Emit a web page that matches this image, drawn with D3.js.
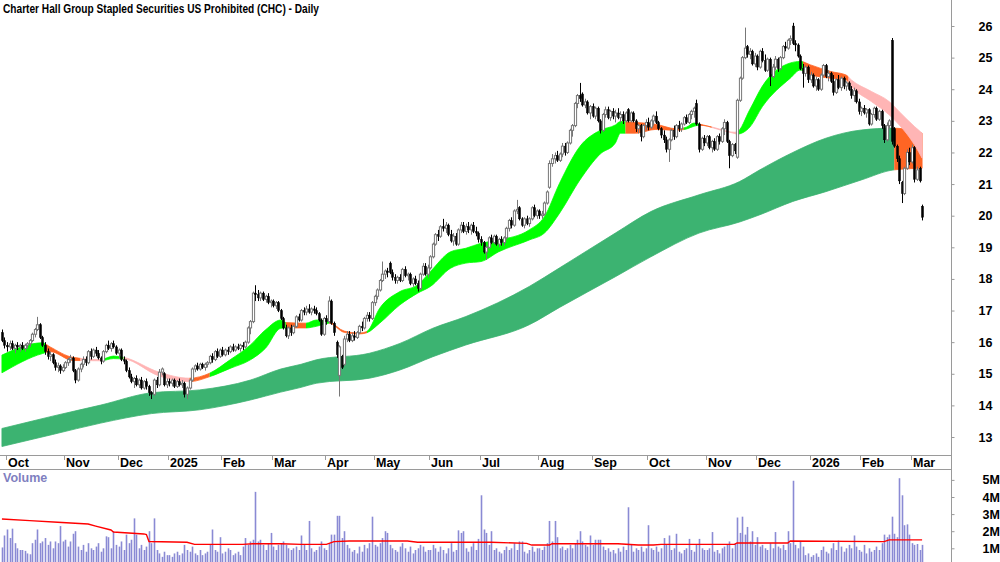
<!DOCTYPE html>
<html>
<head>
<meta charset="utf-8">
<script src="https://cdn.jsdelivr.net/npm/d3@7"></script>
<style>
html, body { margin: 0; padding: 0; background: #fff; }
svg { display: block; }
text { font-family: "Liberation Sans Narrow", "Arial Narrow", "Liberation Sans", Arial, sans-serif; font-weight: bold; }
</style>
</head>
<body>
<script>
// Daily bars, one small array per month: [open, high, low, close, volume (millions)]
const sep24 = [[16.30,16.40,16.00,16.05,1.05],[16.05,16.15,15.80,15.90,1.75]];
const oct24 = [[15.90,16.00,15.70,15.85,2.10],[15.85,16.05,15.75,15.95,1.60],[15.95,16.05,15.75,15.80,2.15],[15.80,15.95,15.65,15.90,1.30],
[15.90,16.00,15.75,15.85,1.00],[15.85,15.95,15.70,15.90,0.90],[15.90,16.00,15.75,15.80,0.90],[15.80,15.95,15.70,15.90,0.85],
[15.90,16.00,15.80,15.95,0.70],[15.95,16.10,15.85,16.05,0.65],[16.05,16.30,16.00,16.25,1.30],[16.25,16.45,16.15,16.40,1.50],
[16.40,16.80,16.35,16.55,2.10],[16.55,16.60,16.10,16.15,1.30],[16.15,16.20,15.85,15.90,1.40],[15.90,16.00,15.60,15.70,1.60],
[15.70,15.80,15.45,15.55,1.20],[15.55,15.70,15.40,15.60,1.40],[15.60,15.65,15.30,15.35,1.00],[15.35,15.45,15.10,15.20,1.40],
[15.20,15.35,15.05,15.25,1.30],[15.25,15.30,15.00,15.10,2.30],[15.10,15.30,15.05,15.20,1.40]];
const nov24 = [[15.20,15.40,15.15,15.35,1.50],[15.35,15.50,15.25,15.45,1.10],[15.45,15.60,15.35,15.50,1.40],[15.50,15.55,15.05,15.10,1.85],
[15.10,15.15,14.70,14.80,2.00],[14.80,15.20,14.75,15.15,1.10],[15.15,15.35,15.05,15.30,0.90],[15.30,15.55,15.20,15.45,1.20],
[15.45,15.55,15.25,15.35,0.80],[15.35,15.75,15.30,15.70,1.30],[15.70,15.80,15.45,15.55,1.00],[15.55,15.80,15.50,15.75,0.90],
[15.75,15.85,15.55,15.65,1.10],[15.65,15.75,15.45,15.50,1.30],[15.50,15.55,15.30,15.40,0.80],[15.40,15.75,15.35,15.70,1.00],
[15.70,15.95,15.65,15.90,1.70],[15.90,16.05,15.75,15.80,1.65],[15.80,16.00,15.70,15.95,1.00],[15.95,16.05,15.80,15.85,2.00],
[15.85,15.90,15.60,15.65,1.20]];
const dec24 = [[15.65,15.80,15.50,15.75,1.10],[15.75,15.80,15.40,15.45,1.40],[15.45,15.55,15.30,15.40,0.90],[15.40,15.45,15.05,15.10,1.80],
[15.10,15.20,14.85,14.90,1.30],[14.90,15.00,14.70,14.75,1.50],[14.75,14.90,14.55,14.85,2.75],[14.85,14.95,14.60,14.65,1.80],
[14.65,14.85,14.55,14.80,1.00],[14.80,14.90,14.50,14.55,1.20],[14.55,14.80,14.50,14.75,0.90],[14.75,14.85,14.50,14.60,1.10],
[14.60,14.65,14.30,14.40,2.00],[14.40,14.45,14.20,14.35,1.30],[14.35,14.85,14.30,14.80,2.75],[14.80,14.90,14.55,14.65,0.90],
[14.65,15.15,14.60,15.05,0.70],[15.05,15.20,14.95,15.15,0.50],[15.00,15.05,14.60,14.65,0.80],[14.65,14.85,14.55,14.75,0.60]];
const jan25 = [[14.75,14.85,14.60,14.70,0.60],[14.70,14.85,14.60,14.80,0.50],[14.80,14.85,14.55,14.60,0.70],[14.60,14.80,14.55,14.75,0.80],
[14.75,14.85,14.60,14.65,0.60],[14.65,14.80,14.55,14.70,0.70],[14.70,14.75,14.25,14.35,1.20],[14.35,14.60,14.20,14.55,0.90],
[14.55,14.85,14.50,14.80,0.80],[14.80,15.20,14.75,15.15,1.10],[15.15,15.30,15.05,15.25,0.70],[15.25,15.35,15.10,15.15,0.60],
[15.15,15.35,15.10,15.30,0.90],[15.30,15.35,15.15,15.20,0.60],[15.20,15.35,15.10,15.30,0.70],[15.30,15.40,15.20,15.35,0.80],
[15.35,15.60,15.30,15.55,1.20],[15.55,15.65,15.35,15.45,2.10],[15.45,15.75,15.40,15.70,0.90],[15.70,15.80,15.50,15.55,0.80],
[15.55,15.80,15.50,15.75,1.65]];
const feb25 = [[15.75,15.85,15.55,15.60,0.70],[15.60,15.80,15.55,15.75,0.80],[15.75,15.85,15.60,15.70,1.00],[15.70,15.90,15.65,15.85,0.90],
[15.85,15.95,15.70,15.75,0.60],[15.75,15.90,15.70,15.85,0.70],[15.85,15.95,15.75,15.80,0.80],[15.80,15.95,15.70,15.90,0.60],
[15.90,16.00,15.75,15.85,1.10],[15.85,16.05,15.80,16.00,1.60],[16.00,16.50,15.95,16.45,1.20],[16.45,16.70,16.25,16.65,1.40],
[16.65,17.60,16.60,17.55,1.50],[17.55,17.80,17.30,17.50,4.30],[17.50,17.65,17.30,17.40,1.40],[17.40,17.60,17.30,17.55,1.50],
[17.55,17.60,17.30,17.35,1.20],[17.35,17.50,17.25,17.45,0.90],[17.45,17.55,17.20,17.25,1.30],[17.25,17.35,17.10,17.30,1.90]];
const mar25 = [[17.30,17.35,17.10,17.15,1.10],[17.15,17.30,17.05,17.25,0.90],[17.25,17.30,16.95,17.00,1.20],[17.00,17.05,16.70,16.75,1.30],
[16.75,16.80,16.40,16.45,1.40],[16.45,16.55,16.15,16.20,1.20],[16.20,16.50,16.10,16.45,1.00],[16.45,16.55,16.20,16.30,0.90],
[16.30,16.55,16.25,16.50,1.00],[16.50,16.85,16.45,16.80,1.10],[16.80,16.90,16.65,16.70,0.90],[16.70,17.05,16.65,17.00,1.75],
[17.00,17.10,16.85,16.95,1.20],[16.95,17.15,16.85,17.05,0.90],[17.05,17.20,16.90,16.95,2.60],[16.95,17.10,16.85,17.05,1.00],
[17.05,17.15,16.90,17.00,0.80],[17.00,17.10,16.85,16.90,0.90],[16.90,16.95,16.65,16.70,1.10],[16.70,16.75,16.20,16.25,1.40],
[16.25,16.80,16.20,16.75,1.00]];
const apr25 = [[16.75,16.85,16.55,16.65,0.90],[16.65,17.45,16.60,17.30,1.30],[17.30,17.35,16.55,16.60,1.80],[16.60,16.65,16.20,16.30,1.80],
[16.00,16.05,15.50,15.60,2.90],[14.95,15.90,14.28,15.85,2.90],[15.55,15.60,15.15,15.20,1.60],[15.30,16.20,15.25,16.10,2.00],
[16.10,16.35,16.00,16.25,1.20],[16.25,16.35,16.00,16.05,1.00],[16.05,16.30,16.00,16.20,0.80],[16.20,16.35,16.05,16.15,0.90],
[16.15,16.35,16.10,16.30,0.70],[16.30,16.55,16.25,16.50,1.10],[16.50,16.65,16.35,16.45,0.80],[16.45,16.80,16.40,16.75,1.20],
[16.75,16.95,16.65,16.85,1.00],[16.85,16.95,16.65,16.75,1.30],[16.75,17.30,16.70,17.25,2.85]];
const may25 = [[17.25,17.50,17.15,17.45,1.20],[17.45,17.70,17.35,17.65,1.10],[17.65,18.00,17.60,17.95,1.30],[17.95,18.55,17.90,18.15,1.60],
[18.15,18.30,18.00,18.25,2.00],[18.25,18.35,18.05,18.20,1.90],[18.50,18.55,18.15,18.20,1.20],[18.20,18.30,17.95,18.05,1.00],
[18.05,18.15,17.85,17.95,0.90],[17.95,18.10,17.85,18.05,0.80],[18.05,18.15,17.90,17.95,1.10],[17.95,18.35,17.90,18.30,1.30],
[18.30,18.40,18.05,18.10,1.00],[18.10,18.20,17.95,18.15,0.80],[18.15,18.20,17.80,17.85,1.10],[17.85,18.05,17.75,18.00,0.70],
[18.00,18.10,17.80,17.85,0.90],[17.85,17.95,17.60,17.70,1.00],[17.70,18.20,17.65,18.15,1.20],[18.15,18.50,18.10,18.40,1.10],
[18.40,18.50,18.10,18.15,0.80],[18.15,18.45,18.05,18.35,0.90]];
const jun25 = [[18.35,18.75,18.30,18.70,0.90],[18.70,19.15,18.65,19.10,1.20],[19.10,19.45,19.05,19.40,1.00],[19.40,19.55,19.20,19.35,0.80],
[19.35,19.70,19.30,19.65,1.10],[19.65,19.90,19.50,19.60,0.90],[19.60,19.80,19.45,19.70,0.70],[19.70,19.75,19.35,19.40,1.00],
[19.40,19.55,19.15,19.20,1.30],[19.20,19.45,19.05,19.35,0.80],[19.35,19.45,19.05,19.10,0.90],[19.10,19.60,19.05,19.55,2.05],
[19.55,19.80,19.45,19.70,1.90],[19.70,19.80,19.45,19.50,2.00],[19.50,19.75,19.40,19.65,1.00],[19.65,19.80,19.45,19.55,0.80],
[19.55,19.75,19.40,19.70,1.10],[19.70,19.80,19.45,19.50,1.30],[19.50,19.65,19.35,19.45,0.90],[19.45,19.50,19.15,19.25,1.55]];
const jul25 = [[19.25,19.35,19.05,19.15,4.10],[19.15,19.20,18.80,18.85,2.10],[18.85,19.05,18.60,19.00,1.90],[19.00,19.35,18.95,19.30,1.20],
[19.30,19.40,19.10,19.15,2.00],[19.15,19.40,19.10,19.35,0.90],[19.35,19.40,19.05,19.10,1.00],[19.10,19.30,19.00,19.25,0.80],
[19.25,19.35,19.05,19.15,0.70],[19.15,19.35,19.05,19.30,0.90],[19.30,19.65,19.25,19.60,1.10],[19.60,19.90,19.50,19.85,0.90],
[19.85,19.95,19.60,19.70,1.00],[19.70,20.20,19.65,20.15,1.30],[20.15,20.50,20.05,20.20,0.90],[20.25,20.30,19.85,19.90,1.40],
[19.90,19.95,19.65,19.70,1.40],[19.70,19.95,19.60,19.90,0.80],[19.90,20.00,19.70,19.75,0.70],[19.75,19.95,19.65,19.90,0.90],
[19.90,20.30,19.85,20.25,1.10],[20.25,20.35,19.95,20.00,0.80],[20.00,20.20,19.90,20.15,1.00]];
const aug25 = [[20.15,20.20,19.90,20.00,1.00],[20.00,20.15,19.90,20.05,0.90],[20.05,20.45,20.00,20.40,1.10],[20.40,20.80,20.35,20.75,1.30],
[20.90,21.75,20.85,21.65,2.60],[21.65,21.95,21.55,21.80,1.40],[21.80,22.00,21.65,21.90,2.60],[21.90,22.05,21.70,21.75,1.65],
[21.75,22.00,21.70,21.95,1.00],[21.95,22.30,21.85,22.20,1.10],[22.20,22.30,21.90,22.00,0.90],[22.00,22.35,21.95,22.30,1.00],
[22.30,22.75,22.25,22.70,1.20],[22.70,22.90,22.50,22.85,1.00],[22.85,23.60,22.80,23.55,1.30],[23.55,23.85,23.40,23.80,1.50],
[23.80,24.20,23.60,23.70,2.00],[23.85,23.90,23.45,23.50,1.40],[23.50,23.70,23.40,23.60,1.20],[23.60,23.65,23.20,23.25,1.10],
[23.25,23.50,23.05,23.45,1.75]];
const sep25 = [[23.45,23.55,23.10,23.15,1.20],[23.15,23.45,23.05,23.40,1.50],[23.40,23.45,22.95,23.00,1.50],[23.00,23.05,22.60,22.70,1.50],
[22.70,23.25,22.65,23.20,1.10],[23.20,23.45,23.10,23.35,0.90],[23.35,23.45,23.05,23.10,1.00],[23.10,23.35,23.00,23.30,0.80],
[23.30,23.40,23.05,23.15,0.90],[23.15,23.35,22.95,23.25,0.70],[23.25,23.40,23.05,23.10,1.00],[23.10,23.30,22.95,23.20,0.80],
[23.20,23.30,22.90,23.00,1.10],[23.00,23.30,22.95,23.25,0.90],[23.35,23.40,22.95,23.00,3.40],[23.00,23.30,22.95,23.25,1.20],
[23.25,23.30,22.95,23.00,0.80],[23.00,23.05,22.65,22.75,1.00],[22.75,22.90,22.60,22.85,0.90],[22.85,22.90,22.35,22.50,1.10],
[22.50,22.90,22.45,22.85,0.80],[22.85,23.05,22.70,22.95,1.00]];
const oct25 = [[22.95,23.10,22.70,22.80,2.35],[22.80,23.05,22.75,23.00,1.00],[23.00,23.20,22.85,23.15,0.90],[23.15,23.30,22.90,22.95,1.10],
[22.95,23.00,22.70,22.75,0.80],[22.75,22.80,22.45,22.55,1.00],[22.55,22.70,22.30,22.40,1.60],[22.40,22.50,22.00,22.10,1.20],
[22.10,22.45,21.70,22.40,1.75],[22.40,22.75,22.35,22.70,0.90],[22.70,22.85,22.40,22.50,1.00],[22.50,22.90,22.45,22.85,1.85],
[22.85,23.00,22.65,22.75,0.80],[22.75,22.95,22.65,22.90,0.70],[22.90,23.15,22.85,23.10,0.90],[23.10,23.20,22.90,22.95,1.00],
[22.95,23.25,22.90,23.20,1.55],[23.20,23.35,23.05,23.30,0.90],[23.30,23.45,23.10,23.40,0.80],[23.55,23.67,22.85,22.90,1.20],
[22.90,22.95,22.00,22.10,1.55],[22.10,22.50,22.05,22.45,1.00],[22.45,22.55,22.20,22.30,0.90]];
const nov25 = [[22.30,22.55,22.20,22.50,0.90],[22.50,22.55,22.10,22.15,1.00],[22.15,22.40,22.00,22.35,1.95],[22.35,22.45,22.05,22.10,0.80],
[22.10,22.55,22.05,22.50,0.90],[22.50,22.60,22.25,22.35,0.70],[22.35,22.80,22.30,22.75,1.00],[22.75,23.05,22.55,22.95,1.10],
[22.95,23.00,22.30,22.35,1.20],[22.35,22.40,21.50,21.90,1.40],[21.90,22.30,21.85,22.25,1.00],[22.25,22.30,21.95,22.05,1.30],
[21.85,23.70,21.80,23.65,2.80],[23.65,24.40,23.60,24.35,1.90],[24.35,25.05,24.30,25.00,2.85],[25.00,25.95,24.95,25.30,1.80],
[25.35,25.40,25.00,25.10,2.25],[25.10,25.30,24.95,25.20,1.40],[25.20,25.25,24.75,24.80,2.00],[24.80,25.15,24.70,25.05,1.20]];
const dec25 = [[25.05,25.10,24.60,24.70,1.65],[24.70,25.25,24.65,25.20,1.10],[25.20,25.30,24.85,24.90,1.20],[24.90,25.10,24.55,24.60,1.00],
[24.60,25.00,24.55,24.95,0.90],[24.95,25.00,24.10,24.40,1.30],[24.40,24.80,24.35,24.70,1.00],[24.70,25.05,24.60,24.95,1.95],
[24.95,25.00,24.55,24.65,1.10],[24.65,25.05,24.60,25.00,1.00],[25.00,25.40,24.95,25.35,1.20],[25.35,25.50,25.20,25.30,0.90],
[25.30,25.60,25.25,25.55,2.00],[25.55,25.70,25.40,25.60,1.30],[26.00,26.10,25.40,25.45,4.95],[25.45,25.55,25.20,25.40,1.20],
[25.40,25.45,25.00,25.05,1.00],[25.05,25.10,24.60,24.65,1.40],[24.65,24.80,24.05,24.50,1.10],[24.50,24.75,24.40,24.70,0.60],
[24.70,24.75,24.20,24.30,0.70]];
const jan26 = [[24.30,24.55,24.20,24.45,0.50],[24.45,24.50,24.05,24.10,0.60],[24.10,24.40,23.95,24.30,0.70],[24.30,24.35,23.95,24.00,0.50],
[24.00,24.50,23.95,24.45,0.90],[24.45,24.80,24.40,24.75,1.10],[24.75,24.80,24.35,24.40,0.80],[24.40,24.60,24.25,24.50,0.70],
[24.50,24.55,24.20,24.25,1.00],[24.25,24.45,23.80,23.90,1.30],[23.90,24.35,23.85,24.30,0.90],[24.30,24.45,24.00,24.05,1.45],
[24.05,24.40,23.95,24.35,1.10],[24.35,24.40,24.00,24.10,0.80],[24.10,24.25,23.95,24.20,1.00],[24.20,24.25,23.95,24.00,1.20],
[24.00,24.10,23.70,23.80,1.00],[23.80,24.05,23.60,23.95,1.75],[23.95,24.00,23.55,23.60,1.10],[23.60,23.70,23.20,23.30,0.90]];
const feb26 = [[23.30,23.45,23.15,23.40,0.80],[23.40,23.50,23.20,23.25,1.20],[23.25,23.40,23.10,23.35,0.70],[23.35,23.40,22.85,22.90,1.00],
[22.90,23.25,22.85,23.20,0.80],[23.20,23.45,23.10,23.40,0.90],[23.40,23.45,23.00,23.05,1.10],[23.05,23.35,23.00,23.30,0.90],
[23.30,23.35,22.75,22.85,1.30],[22.85,22.90,22.30,22.40,1.80],[22.40,22.95,22.35,22.85,1.65],[22.85,23.05,22.75,23.00,1.80],
[25.55,25.62,22.25,22.35,2.85],[22.75,22.80,22.15,22.20,1.85],[22.20,22.25,21.70,21.80,1.65],[21.80,21.90,21.00,21.10,5.10],
[21.05,21.10,20.40,20.70,4.10],[20.70,21.55,20.65,21.50,2.35],[21.50,22.10,21.45,22.00,2.40],[22.00,22.15,21.60,21.70,1.80]];
const mar26 = [[21.70,22.25,21.65,22.15,1.30],[22.15,22.20,21.05,21.15,1.20],[21.15,21.55,21.10,21.45,1.25],[21.50,21.55,21.05,21.10,0.90],
[20.30,20.35,19.85,19.95,1.20]];

const months = [sep24, oct24, nov24, dec24, jan25, feb25, mar25, apr25, may25, jun25, jul25, aug25, sep25, oct25, nov25, dec25, jan26, feb26, mar26];
// label for each month after the first (partial) one
const monthLabels = ["Oct","Nov","Dec","2025","Feb","Mar","Apr","May","Jun","Jul","Aug","Sep","Oct","Nov","Dec","2026","Feb","Mar"];

// Short-term ribbon (bar index, upper, lower)
const ribbonIdx = [0,16,19,28,39,44,48,62,74,82,90,98,104,110,112,120,124,129,135,141,144,149,157,164,169,177,183,189,196,208,214,220,228,236,242,244,250,258,266,270,273,275,289,290,295,300,311,315,319,327,333,335,343,350,354,360,363];
const ribbonHi = [15.59,15.98,15.85,15.52,15.45,15.56,15.52,15.05,14.86,15.02,15.44,15.91,16.39,16.70,16.62,16.60,16.70,16.65,16.35,16.29,16.34,17.07,17.60,17.81,18.23,18.86,18.97,19.13,19.23,19.55,19.97,21.03,22.19,22.70,22.87,22.98,22.95,22.89,22.75,22.80,22.93,22.90,22.64,22.65,23.35,24.10,24.83,24.88,24.77,24.56,24.45,24.30,23.93,23.61,23.29,22.82,22.61];
const ribbonLo = [15.03,15.64,15.70,15.42,15.41,15.48,15.47,14.93,14.75,14.91,15.17,15.44,15.81,16.44,16.45,16.45,16.50,16.60,16.31,16.26,16.30,16.60,17.18,17.55,17.76,18.34,18.50,18.55,18.86,19.23,19.45,20.08,21.13,21.95,22.30,22.61,22.61,22.73,22.70,22.74,22.83,22.86,22.60,22.58,22.80,23.45,24.35,24.61,24.46,24.35,24.30,24.09,23.61,23.19,22.87,22.24,21.82];
// ribbon state by bar range: up, down, weak
const ribbonState = [[0,17,"up"],[17,31,"down"],[31,40,"weak"],[40,48,"up"],[48,74,"weak"],[74,82,"down"],[82,112,"up"],[112,120,"down"],[120,129,"up"],[129,144,"down"],[144,246,"up"],[246,269,"down"],[269,275,"up"],[275,280,"down"],[280,290,"weak"],[290,316,"up"],[316,334,"down"],[334,363,"weak"]];

// Long-term band
const bandIdx = [0,20,39,59,78,98,110,118,124,145,157,170,183,208,220,242,256,275,291,299,312,325,339,352,363];
const bandHi = [13.27,13.66,14.01,14.40,14.49,14.80,15.15,15.30,15.44,15.65,15.96,16.44,16.81,17.76,18.35,19.45,20.13,20.66,21.08,21.45,22.00,22.45,22.71,22.77,22.61];
const bandLo = [12.70,13.08,13.44,13.74,13.86,14.17,14.42,14.57,14.70,14.86,15.12,15.54,15.91,16.55,17.10,18.07,18.70,19.45,19.80,20.03,20.45,20.76,21.13,21.45,21.50];
const bandState = [[0,352,"up"],[352,363,"down"]];

// Volume moving average (millions)
const volMaIdx = [0,11,22,34,37,43,44,56,57,58,73,76,95,99,110,118,128,131,137,160,164,193,207,209,216,217,243,251,257,260,289,290,310,311,348,350,363];
const volMaVal = [2.71,2.62,2.52,2.42,2.30,2.07,1.95,1.84,1.80,1.40,1.35,1.23,1.23,1.27,1.27,1.23,1.23,1.39,1.43,1.43,1.35,1.35,1.29,1.19,1.19,1.27,1.27,1.19,1.19,1.23,1.23,1.31,1.31,1.43,1.39,1.49,1.49];

const priceTicks = d3.range(13, 27);
const volTicks = [1, 2, 3, 4, 5];

// ---- layout
const width = 1000, height = 562;
const plotRight = 951;
const axisTop = 455, axisBottom = 469;

const bars = [].concat(...months);
const monthStart = [];
let n = 0;
months.forEach(function(m, k){ if (k > 0) monthStart.push(n); n += m.length; });

const svg = d3.select("body").append("svg")
  .attr("width", width)
  .attr("height", height);

svg.append("rect").attr("width", width).attr("height", height).attr("fill", "#fff");

const x = d3.scaleLinear().domain([0, bars.length - 1]).range([1.93, 922.1]);
const y = d3.scaleLinear().domain([13, 26]).range([437, 26]);
const yVol = d3.scaleLinear().domain([0, 5]).range([565.4, 479.9]);

const defs = svg.append("defs");
defs.append("clipPath").attr("id", "pricePane")
  .append("rect").attr("x", 0).attr("y", 0).attr("width", plotRight).attr("height", axisTop);

const stateColour = {up: "#00ff00", down: "#ff6524", weak: "#ffb5b5"};
const bandColour = {up: "#3cb371", down: "#ff6524"};

function drawRibbon(g, idx, hi, lo, states, colours, name) {
  const pts = idx.map(function(d, k){ return {i: d, hi: hi[k], lo: lo[k]}; });
  const area = d3.area()
    .x(function(d){ return x(d.i); })
    .y0(function(d){ return y(d.lo); })
    .y1(function(d){ return y(d.hi); })
    .curve(d3.curveMonotoneX);
  states.forEach(function(s, k){
    const id = name + k;
    defs.append("clipPath").attr("id", id)
      .append("rect")
      .attr("x", s[0] === 0 ? 0 : x(s[0]))
      .attr("y", 0)
      .attr("width", (s[1] === bars.length - 1 ? x(s[1]) + 3 : x(s[1])) - (s[0] === 0 ? 0 : x(s[0])))
      .attr("height", axisTop);
    g.append("path")
      .attr("d", area(pts))
      .attr("fill", colours[s[2]])
      .attr("stroke", colours[s[2]])
      .attr("stroke-width", 0.8)
      .attr("clip-path", "url(#" + id + ")");
  });
}

const pane = svg.append("g").attr("clip-path", "url(#pricePane)");
drawRibbon(pane.append("g"), bandIdx, bandHi, bandLo, bandState, bandColour, "band");
drawRibbon(pane.append("g"), ribbonIdx, ribbonHi, ribbonLo, ribbonState, stateColour, "rib");

// candles
const candles = pane.append("g");
candles.selectAll("line")
  .data(bars)
  .enter()
  .append("line")
  .attr("x1", function(d, i){ return Math.round(x(i)) + 0.5; })
  .attr("x2", function(d, i){ return Math.round(x(i)) + 0.5; })
  .attr("y1", function(d){ return y(d[1]); })
  .attr("y2", function(d){ return y(d[2]); })
  .attr("stroke", function(d){ return d[3] >= d[0] ? "#777" : "#000"; })
  .attr("stroke-width", 1);

candles.selectAll("rect")
  .data(bars)
  .enter()
  .append("rect")
  .attr("x", function(d, i){ return Math.round(x(i)) - 0.6; })
  .attr("y", function(d){ return y(Math.max(d[0], d[3])); })
  .attr("width", 2.2)
  .attr("height", function(d){ return Math.max(1, Math.abs(y(d[0]) - y(d[3]))); })
  .attr("fill", function(d){ return d[3] >= d[0] ? "#fff" : "#000"; })
  .attr("stroke", function(d){ return d[3] >= d[0] ? "#777" : "#000"; })
  .attr("stroke-width", function(d){ return d[3] >= d[0] ? 1 : 0.4; });

// volume
svg.append("g").selectAll("line")
  .data(bars)
  .enter()
  .append("line")
  .attr("x1", function(d, i){ return Math.round(x(i)) + 0.5; })
  .attr("x2", function(d, i){ return Math.round(x(i)) + 0.5; })
  .attr("y1", yVol(0))
  .attr("y2", function(d){ return yVol(d[4]); })
  .attr("stroke", "#8a8ad4")
  .attr("stroke-width", 1.6);

const volLine = d3.line()
  .x(function(d){ return x(d[0]); })
  .y(function(d){ return yVol(d[1]); });
svg.append("path")
  .attr("d", volLine(volMaIdx.map(function(d, k){ return [d, volMaVal[k]]; })))
  .attr("fill", "none")
  .attr("stroke", "#ff0000")
  .attr("stroke-width", 1.4);

// frame lines
const axisCol = "#9a9a9a";
svg.append("line").attr("x1", plotRight + 0.5).attr("x2", plotRight + 0.5).attr("y1", 0).attr("y2", height)
  .attr("stroke", axisCol);
svg.append("line").attr("x1", 0).attr("x2", plotRight).attr("y1", axisTop + 0.5).attr("y2", axisTop + 0.5)
  .attr("stroke", axisCol);
svg.append("line").attr("x1", 0).attr("x2", plotRight).attr("y1", axisBottom + 0.5).attr("y2", axisBottom + 0.5)
  .attr("stroke", axisCol);

// month axis
const monthG = svg.append("g");
monthStart.forEach(function(s, k){
  const mx = Math.round(x(s)) - 0.5;
  monthG.append("line").attr("x1", mx).attr("x2", mx).attr("y1", axisTop).attr("y2", axisTop + 5)
    .attr("stroke", axisCol);
  monthG.append("text").attr("x", mx + 1.5).attr("y", 467)
    .attr("font-size", "12.5px").attr("fill", "#000")
    .text(monthLabels[k]);
});

// price axis
const yAxis = d3.axisRight(y).tickValues(priceTicks).tickSize(3).tickPadding(24)
  .tickFormat(d3.format("d"));
const ya = svg.append("g").attr("transform", "translate(" + (plotRight + 0.5) + ",0)").call(yAxis);
ya.select(".domain").remove();
ya.selectAll("line").attr("stroke", axisCol);
ya.selectAll("text").attr("font-size", "12.5px").attr("fill", "#000")
  .attr("font-family", null).attr("font-weight", null);

// volume axis
const vAxis = d3.axisRight(yVol).tickValues(volTicks).tickSize(3).tickPadding(28)
  .tickFormat(function(d){ return d + "M"; });
const va = svg.append("g").attr("transform", "translate(" + (plotRight + 0.5) + ",0)").call(vAxis);
va.select(".domain").remove();
va.selectAll("line").attr("stroke", axisCol);
va.selectAll("text").attr("font-size", "12.5px").attr("fill", "#000")
  .attr("font-family", null).attr("font-weight", null);

// titles
svg.append("text").attr("x", 3).attr("y", 13)
  .attr("font-size", "12.5px").attr("fill", "#000")
  .attr("textLength", 316).attr("lengthAdjust", "spacingAndGlyphs")
  .text("Charter Hall Group Stapled Securities US Prohibited (CHC) - Daily");

svg.append("text").attr("x", 3).attr("y", 482)
  .attr("font-size", "12.5px").attr("fill", "#8080c0")
  .text("Volume");
</script>
</body>
</html>
